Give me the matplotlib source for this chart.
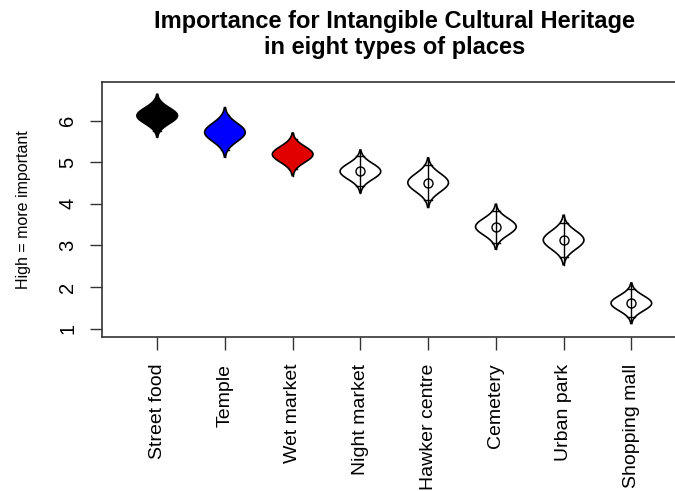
import matplotlib
matplotlib.use('Agg')
import matplotlib.pyplot as plt
import numpy as np

plt.rcParams['font.family'] = ['Liberation Sans', 'DejaVu Sans']

places = ['Street food', 'Temple', 'Wet market', 'Night market',
          'Hawker centre', 'Cemetery', 'Urban park', 'Shopping mall']
means = [6.12, 5.72, 5.19, 4.78, 4.51, 3.45, 3.13, 1.61]
sds = [0.19, 0.22, 0.19, 0.19, 0.22, 0.20, 0.22, 0.18]
fills = ['black', '#0000ff', '#e00000', 'none', 'none', 'none', 'none', 'none']

fig = plt.figure(figsize=(6.75, 4.91), dpi=100)
ax = fig.add_axes([0.1516, 0.313, 0.865, 0.52])

half_width = 0.3
for i, (m, s, fc) in enumerate(zip(means, sds, fills)):
    x = i + 1
    lo, hi = m - 2.7 * s, m + 2.7 * s
    # centre line with short crossbars
    ax.plot([x, x], [lo, hi], color='black', lw=1, zorder=1)
    for c in (m - 1.9 * s, m + 1.9 * s):
        ax.plot([x - 0.06, x + 0.06], [c, c], color='black', lw=1, zorder=1)
    ax.plot(x, m, 'o', ms=6.5, mfc='none', mec='black', mew=1, zorder=1)
    # normal-density violin
    yy = np.linspace(lo, hi, 200)
    ww = half_width * np.exp(-0.5 * ((yy - m) / s) ** 2)
    px = np.concatenate([x - ww, (x + ww)[::-1]])
    py = np.concatenate([yy, yy[::-1]])
    ax.fill(px, py, facecolor=fc, edgecolor='black', lw=1.2, zorder=2)

ax.set_xlim(0.19, 8.81)
ax.set_ylim(0.79, 6.93)
ax.set_xticks(range(1, 9))
ax.set_xticklabels(places, rotation=90, fontsize=14)
ax.set_yticks(range(1, 7))
ax.set_yticklabels([str(v) for v in range(1, 7)], rotation=90, va='center',
                   fontsize=14.5)
ax.tick_params(axis='both', length=9, width=1, color='#333333')
ax.tick_params(axis='x', pad=10)
ax.tick_params(axis='y', pad=9)
for sp in ax.spines.values():
    sp.set_color('#333333')
    sp.set_linewidth(1.2)

ax.set_ylabel('High = more important', fontsize=11.5, labelpad=20)
ax.set_title('Importance for Intangible Cultural Heritage\nin eight types of places',
             fontsize=17, fontweight='bold', pad=20, linespacing=1.2)

fig.savefig('out.png', dpi=100)
